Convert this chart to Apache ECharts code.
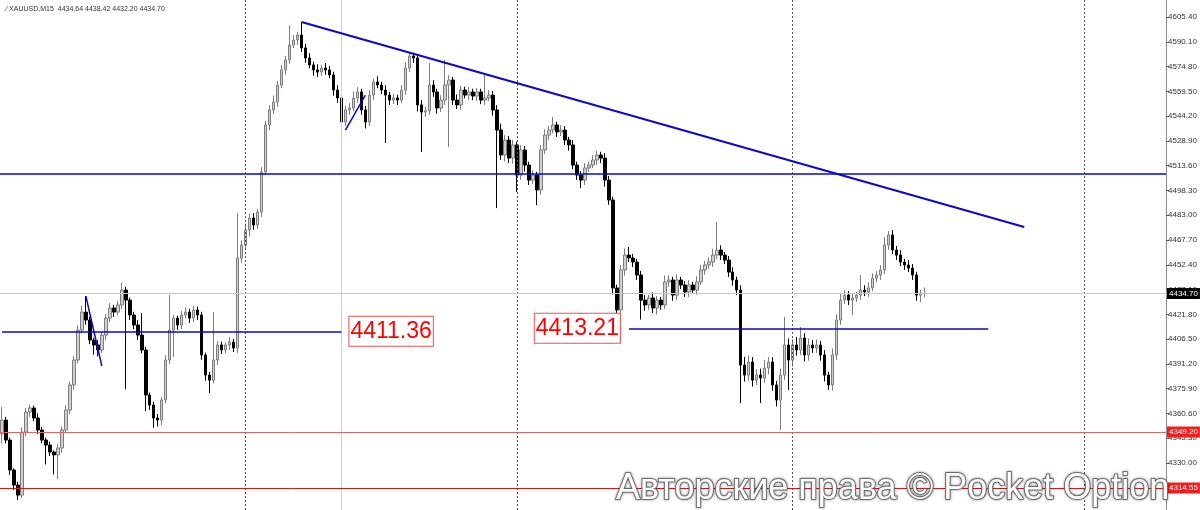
<!DOCTYPE html>
<html><head><meta charset="utf-8">
<script src="https://cdn.jsdelivr.net/npm/echarts@6/dist/echarts.min.js"></script>
<style>html,body{margin:0;padding:0;background:#fff}#c{width:1200px;height:510px}</style>
</head><body><div id="c"></div>
<script>
// ---- data ----
const closes = [4356.5,4344.2,4325.7,4316.4,4310.2,4349.1,4361.5,4364.0,4357.8,4350.4,
4344.2,4341.1,4336.8,4335.0,4339.3,4350.4,4362.7,4378.2,4393.6,4412.1,
4423.2,4418.3,4405.9,4402.9,4399.8,4409.0,4419.5,4425.7,4423.2,4427.6,
4436.8,4430.6,4421.4,4415.2,4409.0,4399.8,4372.0,4365.8,4357.8,4356.5,
4368.9,4393.6,4412.1,4419.5,4415.2,4421.4,4423.2,4419.5,4424.5,4421.4,
4396.7,4384.3,4381.2,4393.6,4402.9,4399.8,4402.9,4404.7,4401.0,4456.6,
4464.6,4473.9,4481.3,4477.0,4485.0,4509.7,4538.7,4548.0,4552.9,4563.4,
4572.7,4578.9,4588.1,4591.2,4594.3,4586.3,4580.1,4575.8,4572.7,4571.4,
4573.9,4572.7,4569.6,4560.3,4555.4,4540.6,4548.0,4549.2,4555.4,4559.1,
4548.0,4540.6,4557.2,4565.3,4563.4,4560.3,4557.2,4554.1,4555.4,4554.1,
4560.3,4573.9,4581.3,4580.1,4551.1,4546.7,4547.5,4563.4,4559.1,4549.2,
4554.1,4563.4,4566.5,4554.1,4551.1,4560.3,4557.2,4559.1,4556.6,4559.1,
4554.1,4555.4,4557.2,4548.0,4535.6,4520.2,4529.4,4518.3,4526.4,4507.8,
4523.3,4514.0,4504.7,4507.8,4498.6,4523.3,4532.5,4535.6,4538.7,4534.4,
4535.6,4529.4,4526.4,4514.0,4507.8,4504.7,4512.2,4514.0,4517.1,4520.2,
4518.3,4504.7,4492.4,4438.1,4424.5,4449.2,4458.4,4456.6,4454.1,4446.1,
4430.6,4427.6,4431.9,4425.7,4430.6,4427.6,4441.8,4443.0,4433.7,4443.0,
4439.9,4435.6,4439.9,4436.8,4441.8,4449.2,4452.3,4454.1,4458.4,4461.5,
4458.4,4455.3,4447.9,4443.0,4436.8,4390.5,4384.3,4392.4,4381.2,4384.3,
4382.5,4388.7,4392.4,4378.2,4368.9,4384.3,4402.9,4393.6,4402.9,4399.8,
4407.2,4396.7,4402.9,4401.0,4402.9,4396.7,4384.3,4378.2,4396.7,4418.3,
4430.6,4433.7,4430.6,4431.9,4433.7,4436.8,4435.6,4438.1,4444.2,4446.1,
4449.2,4464.6,4470.8,4461.5,4458.4,4454.1,4452.3,4450.4,4446.1,4433.7,
4435.0,4434.70];

const opens = [4348.0,4356.5,4344.2,4325.7,4316.4,4310.2,4349.1,4361.5,4364.0,4357.8,
4350.4,4344.2,4341.1,4336.8,4335.0,4339.3,4350.4,4362.7,4378.2,4393.6,
4412.1,4423.2,4418.3,4405.9,4402.9,4399.8,4409.0,4419.5,4425.7,4423.2,
4427.6,4436.8,4430.6,4421.4,4415.2,4409.0,4399.8,4372.0,4365.8,4357.8,
4356.5,4368.9,4393.6,4412.1,4419.5,4415.2,4421.4,4423.2,4419.5,4424.5,
4421.4,4396.7,4384.3,4381.2,4393.6,4402.9,4399.8,4402.9,4404.7,4401.0,
4456.6,4464.6,4473.9,4481.3,4477.0,4485.0,4509.7,4538.7,4548.0,4552.9,
4563.4,4572.7,4578.9,4588.1,4591.2,4594.3,4586.3,4580.1,4575.8,4572.7,
4571.4,4573.9,4572.7,4569.6,4560.3,4555.4,4540.6,4548.0,4549.2,4555.4,
4559.1,4548.0,4540.6,4557.2,4565.3,4563.4,4560.3,4557.2,4554.1,4555.4,
4554.1,4560.3,4573.9,4581.3,4580.1,4551.1,4546.7,4547.5,4563.4,4559.1,
4549.2,4554.1,4563.4,4566.5,4554.1,4551.1,4560.3,4557.2,4559.1,4556.6,
4559.1,4554.1,4555.4,4557.2,4548.0,4535.6,4520.2,4529.4,4518.3,4526.4,
4507.8,4523.3,4514.0,4504.7,4507.8,4498.6,4523.3,4532.5,4535.6,4538.7,
4534.4,4535.6,4529.4,4526.4,4514.0,4507.8,4504.7,4512.2,4514.0,4517.1,
4520.2,4518.3,4504.7,4492.4,4438.1,4424.5,4449.2,4458.4,4456.6,4454.1,
4446.1,4430.6,4427.6,4431.9,4425.7,4430.6,4427.6,4441.8,4443.0,4433.7,
4443.0,4439.9,4435.6,4439.9,4436.8,4441.8,4449.2,4452.3,4454.1,4458.4,
4461.5,4458.4,4455.3,4447.9,4443.0,4436.8,4390.5,4384.3,4392.4,4381.2,
4384.3,4382.5,4388.7,4392.4,4378.2,4368.9,4384.3,4402.9,4393.6,4402.9,
4399.8,4407.2,4396.7,4402.9,4401.0,4402.9,4396.7,4384.3,4378.2,4396.7,
4418.3,4430.6,4433.7,4430.6,4431.9,4433.7,4436.8,4435.6,4438.1,4444.2,
4446.1,4449.2,4464.6,4470.8,4461.5,4458.4,4454.1,4452.3,4450.4,4446.1,
4433.7,4434.64];

// wick lengths above / below the body (price units)
const upperWicks = [8,2,1.5,1,2,3,2.5,2,1.5,3,
2,1.5,2,1,2.5,2,3,2,2.5,3,
4,9.9,2,1.5,3,2,2.5,3,2,2.5,
4.4,2,1.5,2,3,13.6,2,1.5,2,2.5,
2,3,21.6,2,1.5,2.5,3,2,2.5,2,
2,1.5,2,29.6,2.5,2,1.5,3,2,27.8,
3,4,2.5,3,2,3,2.5,3,4,2.5,
3,2.5,12.3,3,2,8,2.5,3,2,3.5,
2,3,2.5,2,3,2,2.5,3,4,3,
2,2.5,3,2,3.5,2,3,2,2.5,2,
3,3.5,2.5,2,2,3,2.5,13.6,3,2,
3,15.4,3,2,3.5,2.5,2,3,2,2.5,
2,14.2,3,2.5,3,4,3,2.5,3,2,
3,2.5,2,3,2,3,3.5,2.5,5,2,
3,2.5,2,3,2,2.5,3,2,3,2.5,
2,3,2.5,2,2,3,4,5,2.5,2,
2.5,3,2,3.5,2.5,2,4,3,2,3.5,
2,2.5,3,2,3.5,3,2.5,3,4,17.3,
3,2,2.5,3,2,3,5,4,3,3.5,
4,5,3,3,2.5,4,17.3,4,3.5,5,
6.8,3,4,3,3.5,2.5,3,2,4,3.5,
4,3,2.5,3,2,9.3,3,3.5,3,2.5,
3,5,2.5,3,2.5,3,2,3,2.5,2,
2,3.72];
const lowerWicks = [6,2,3,3,3.1,2,2.5,3,2,2.5,
2,12,2.5,12,15,3,2,2.5,3,2,
2,3,2.5,6,4,2,3,2.5,3,2,
2.5,55,3,2.5,3,2,10,3,6,4,
3,2,2.5,16.6,3,2.5,2,3,2.5,3,
3,3.5,8,2,3,2.5,2,3,2.5,3,
3,2.5,4,3,2.5,3,2,3,2.5,3,
2,3,2.5,2,3,2.5,3,2,3.5,3,
2.5,3,2,3.5,3,6.2,2.5,3,2,3,
3,4,2.5,3,2,2.5,29.6,3,2.5,3,
2,3,2.5,3,4,24.7,3,2.5,3,3.5,
2.5,3,38.3,3,2.5,3,2,3,2.5,3,
2.5,3,2,3.5,48.2,3,4,3,3.5,10.5,
3,4,3,2.5,9.3,3,2.5,3,2,3,
2.5,3,3.5,2.5,3,5,3,2.5,2,3,
3,4,3,4,6,3,3.5,2.5,3,3,
12,3.5,3,3,4,3,2.5,3,3.5,3,
2.5,3,3,2.5,3,2,3,2.5,3,2.5,
3,2.5,3,3.5,3,23.5,4,3.5,4,3,
15.4,3,4,3.5,4,18.5,3,18.5,4,3.5,
3,4,3.5,3,3,3.5,4,3,3.5,3,
3,2.5,3,9.3,2.5,3,2.5,3,2,2.5,
3,2.5,3,2.5,3,2.5,3,2.5,3,3.5,
4.3,2.44];

const tickValues = [4605.40,4590.10,4574.80,4559.50,4544.20,4528.90,4513.60,4498.30,4483.00,
4467.70,4452.40,4437.10,4421.80,4406.50,4391.20,4375.90,4360.60,4345.30,4330.00];

const currentPrice = 4434.70;
const resistanceLevel = 4508.5;
const supportA = 4411.36;
const supportB = 4413.21;
const redLevelA = 4349.20;
const redLevelB = 4314.55;
const trendLine = [[75, 4602.3], [256, 4475.7]];
const stroke1 = [[21, 4433.1], [25, 4389.9]];
const stroke2 = [[86, 4535.6], [91, 4557.2]];
const separators = [61, 129, 198, 271];
const cursorLine = 85;
const totalSlots = 292;
const header = 'XAUUSD,M15  4434.64 4438.42 4432.20 4434.70';
const watermark = 'Авторские права © Pocket Option';

// ---- build ----
const categories = Array.from({length: totalSlots}, (_, i) => String(i));
const ohlc = opens.map((o, i) => {
  const c = closes[i];
  return [o, c, +(Math.min(o, c) - lowerWicks[i]).toFixed(2), +(Math.max(o, c) + upperWicks[i]).toFixed(2)];
});

const blue = '#0a0ac8';
const seg = (pts, style, label) => [
  {coord: [String(pts[0][0]), pts[0][1]], lineStyle: style, label: label || {show: false}},
  {coord: [String(pts[1][0]), pts[1][1]]}
];
const axisBadge = (txt, bg) => ({show: true, position: 'end', distance: 1, formatter: txt,
  backgroundColor: bg, color: '#fff', fontSize: 8, fontFamily: 'Liberation Sans',
  padding: [2, 2, 1, 2]});
const boxLabel = (txt, pos, dist) => ({show: true, position: pos, distance: dist, formatter: txt,
  color: '#f00', fontSize: 23, fontFamily: 'Liberation Sans', backgroundColor: '#fff',
  borderColor: '#f05050', borderWidth: 1, padding: [4, 1, 2, 1]});

const markData = [];
separators.forEach(s => markData.push({xAxis: String(s), lineStyle: {color: '#555', type: [2, 2], width: 1}}));
markData.push({xAxis: String(cursorLine), lineStyle: {color: '#cfdf9c', type: 'solid', width: 1}});
markData.push({yAxis: currentPrice, lineStyle: {color: '#c8c8c8', type: 'solid', width: 1}, label: axisBadge('4434.70', '#000')});
markData.push({yAxis: redLevelA, lineStyle: {color: '#e06464', type: 'solid', width: 1}, label: axisBadge('4349.20', '#f01e1e')});
markData.push({yAxis: redLevelB, lineStyle: {color: '#d01818', type: 'solid', width: 1}, label: axisBadge('4314.55', '#f01e1e')});
markData.push({yAxis: resistanceLevel, lineStyle: {color: blue, type: 'solid', width: 1.6}});
markData.push(seg([[0, supportA], [85, supportA]], {color: blue, type: 'solid', width: 1.6}, boxLabel('4411.36', 'end', 8)));
markData.push(seg([[157, supportB], [247, supportB]], {color: blue, type: 'solid', width: 1.6}, boxLabel('4413.21', 'start', 9)));
markData.push(seg(trendLine, {color: blue, type: 'solid', width: 2}));
markData.push(seg(stroke1, {color: blue, type: 'solid', width: 1.5}));
markData.push(seg(stroke2, {color: blue, type: 'solid', width: 1.5}));

const chart = echarts.init(document.getElementById('c'), null, {renderer: 'canvas'});
chart.setOption({
  animation: false,
  backgroundColor: '#fff',
  title: [
    {text: '⁄ ' + header, left: 1, top: 1, textStyle: {fontSize: 7, fontWeight: 'normal', color: '#333', fontFamily: 'Liberation Sans'}},
    {text: watermark, left: 611, top: 466, textStyle: {fontSize: 36, fontWeight: 'normal', color: '#fff',
      fontFamily: 'Liberation Sans', textBorderColor: '#7a7a7a', textBorderWidth: 2,
      textShadowColor: 'rgba(0,0,0,0.35)', textShadowBlur: 3}}
  ],
  grid: {left: 0, right: 34, top: 0, bottom: 0},
  xAxis: {type: 'category', data: categories, show: false, boundaryGap: true},
  yAxis: {
    type: 'value', position: 'right', min: 4301.0, max: 4615.9, scale: true,
    splitLine: {show: false},
    axisLine: {show: true, lineStyle: {color: '#8a8a8a', width: 1}},
    axisTick: {show: true, length: 3, lineStyle: {color: '#555'}, customValues: tickValues},
    axisLabel: {show: true, margin: 2, fontSize: 8, fontFamily: 'Liberation Sans', color: '#333',
      customValues: tickValues, formatter: v => v.toFixed(2)}
  },
  series: [{
    type: 'candlestick',
    data: ohlc,
    barWidth: 3,
    itemStyle: {color: '#cfcfcf', borderColor: '#7d7d7d', color0: '#000', borderColor0: '#000', borderWidth: 1},
    markLine: {silent: true, symbol: ['none', 'none'], animation: false, label: {show: false}, data: markData}
  }]
});
</script></body></html>
